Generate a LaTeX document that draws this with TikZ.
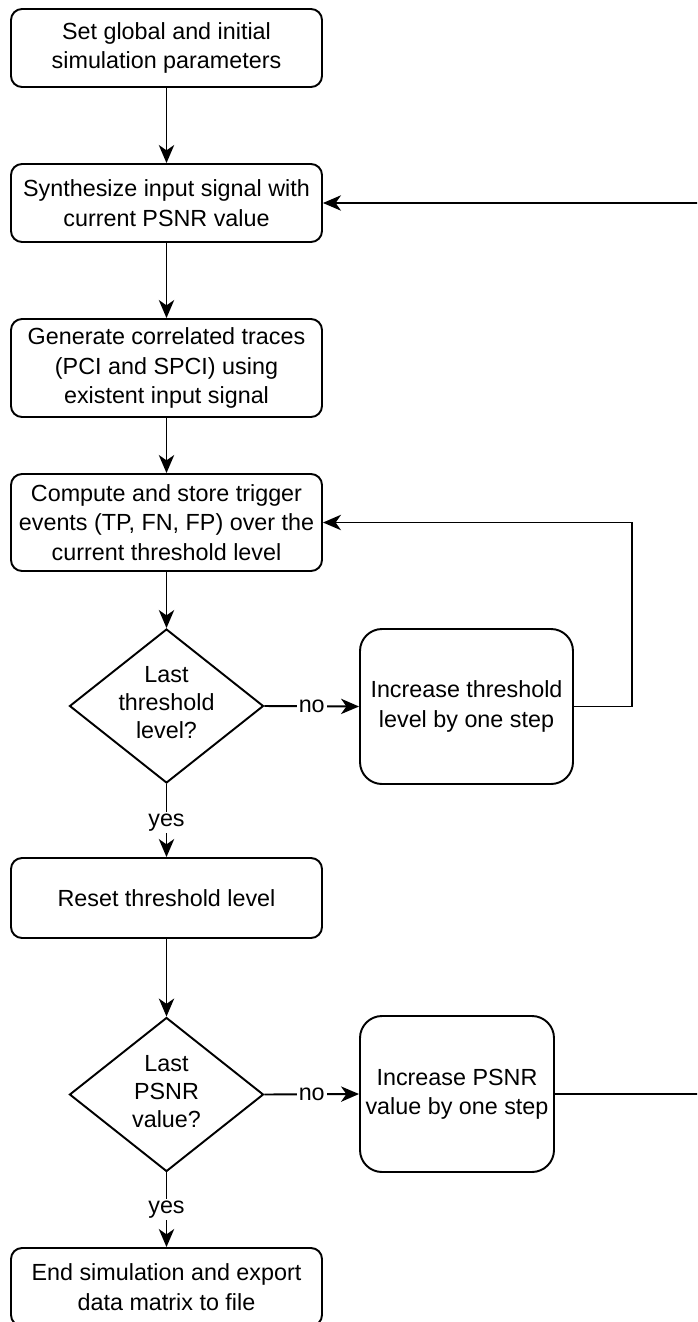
\documentclass[tikz,border=0pt]{standalone}
\usepackage{fontspec}
\setmainfont{Liberation Sans}
\usetikzlibrary{shapes.geometric,arrows.meta}
\begin{document}
\begin{tikzpicture}[x=0.75pt,y=-0.75pt,
  every node/.style={font=\fontsize{17.5}{22}\selectfont},
  ln/.style={line width=1.45pt, draw=black},
  box/.style={ln, rounded corners=8.25pt, align=center, inner sep=0pt, minimum width=233.25pt},
  bigbox/.style={ln, rounded corners=16.5pt, align=center, inner sep=0pt},
  dec/.style={ln, diamond, inner sep=0pt, minimum width=145.5pt, minimum height=115.5pt},
  dectext/.style={align=center, font=\fontsize{17.5}{21}\selectfont},
  arr/.style={ln, -{Stealth[length=13.5pt,width=11.5pt,inset=4pt]}},
  lab/.style={fill=white, inner sep=1.5pt}
]
\fill[white] (0,0) rectangle (697,1322);
\useasboundingbox (0,0) rectangle (697,1322);
\clip (0,0) rectangle (697,1322);

\node[box, minimum height=58.5pt] (b1) at (166.5,48) {Set global and initial\\simulation parameters};
\node[box, minimum height=58.5pt] (b2) at (166.5,203) {Synthesize input signal with\\current PSNR value};
\node[box, minimum height=73.5pt] (b3) at (166.5,368) {Generate correlated traces\\(PCI and SPCI) using\\existent input signal};
\node[box, minimum height=72.75pt] (b4) at (166.5,522.5) {Compute and store trigger\\events (TP, FN, FP) over the\\current threshold level};
\node[dec] (d1) at (166.5,706) {};
\node[dectext] (t1) at (166.5,703) {Last\\threshold\\level?};
\node[bigbox, minimum width=159.75pt, minimum height=116.25pt] (i1) at (466.5,706.5) {Increase threshold\\level by one step};
\node[box, minimum height=60pt] (r) at (166.5,898) {Reset threshold level};
\node[dec] (d2) at (166.5,1094.5) {};
\node[dectext] (t2) at (166.5,1091.5) {Last\\PSNR\\value?};
\node[bigbox, minimum width=145.5pt, minimum height=117pt] (i2) at (457,1094) {Increase PSNR\\value by one step};
\node[box, minimum height=58.5pt] (e) at (166.5,1287) {End simulation and export\\data matrix to file};

\coordinate (c1) at (632,522.5);
\coordinate (c2) at (699,203);

\draw[arr] (b1.south) -- (b2.north);
\draw[arr] (b2.south) -- (b3.north);
\draw[arr] (b3.south) -- (b4.north);
\draw[arr] (b4.south) -- (d1.north);
\draw[arr] (d1.east) -- node[lab] (n1) {no} (i1.west);
\draw[arr] (i1.east) -| (c1) -- (b4.east);
\draw[arr] (d1.south) -- node[lab, pos=0.53] (y1) {yes} (r.north);
\draw[arr] (r.south) -- (d2.north);
\draw[arr] (d2.east) -- node[lab] (n2) {no} (i2.west);
\draw[arr] (i2.east) -| (c2) -- (b2.east);
\draw[arr] (d2.south) -- node[lab, pos=0.5] (y2) {yes} (e.north);
\end{tikzpicture}
\end{document}
